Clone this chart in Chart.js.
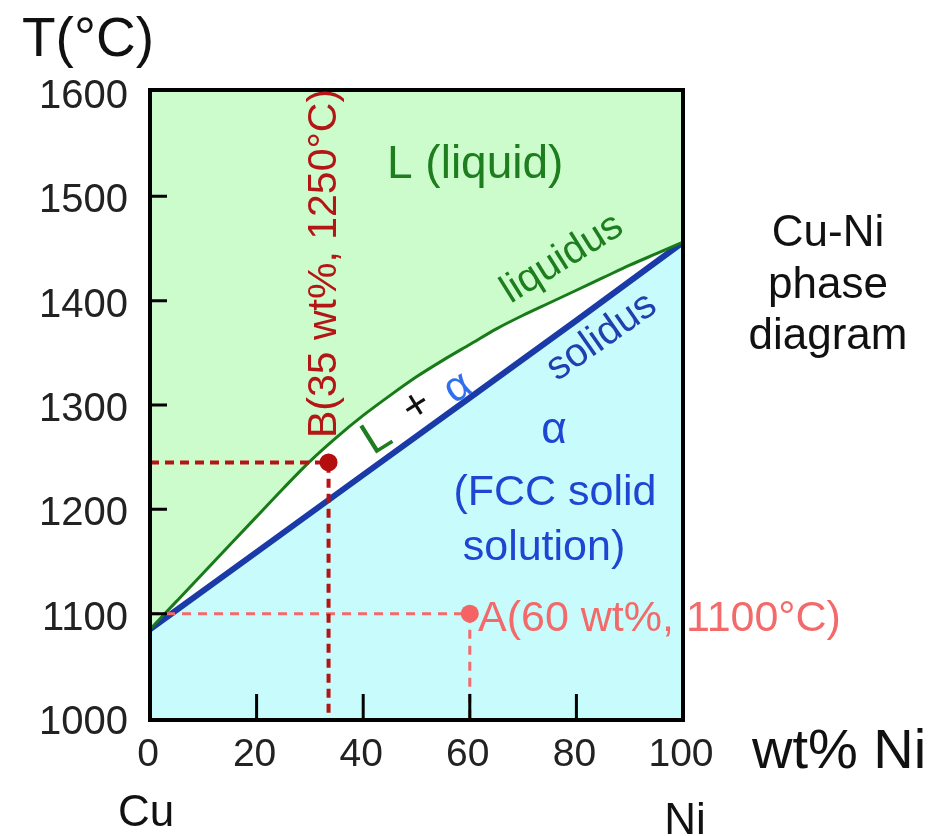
<!DOCTYPE html>
<html>
<head>
<meta charset="utf-8">
<script src="https://cdn.jsdelivr.net/npm/chart.js@4.4.1/dist/chart.umd.min.js"></script>
<style>
  html, body { margin: 0; padding: 0; background: #fff; }
  canvas { display: block; }
</style>
</head>
<body>
<canvas id="phaseChart" width="935" height="836"></canvas>
<script>
// Cu-Ni phase diagram values (wt% Ni vs temperature in C)
const liquidusNi = [0, 5, 10, 15, 20, 25, 30, 35, 40, 45, 50, 55, 60, 65, 70, 75, 80, 85, 90, 95, 100];
const liquidusT  = [1085, 1112, 1139, 1166, 1193, 1220, 1246, 1269, 1290, 1309, 1327, 1343, 1358, 1373, 1386, 1398, 1410, 1422, 1434, 1445, 1456];
const solidusNi = [0, 20, 40, 60, 80, 100];
const solidusT  = [1085, 1159, 1233, 1307, 1381, 1456];
const pointA = { ni: 60, t: 1100 };
const pointB = { ni: 33.5, t: 1245 };
const xTicks = [0, 20, 40, 60, 80, 100];
const yTicks = [1000, 1100, 1200, 1300, 1400, 1500, 1600];

const FONT = '"Liberation Sans", Arial, sans-serif';

function pts(xs, ys) {
    return xs.map((x, i) => ({ x: x, y: ys[i] }));
}

// frame, inward ticks and all the labels
const decorations = {
    id: 'decorations',
    afterDatasetsDraw(chart) {
        const ctx = chart.ctx;
        const a = chart.chartArea;
        const xs = chart.scales.x, ys = chart.scales.y;
        ctx.save();

        // inward tick marks
        ctx.strokeStyle = '#000';
        ctx.lineWidth = 3;
        ctx.beginPath();
        yTicks.slice(1, -1).forEach(v => {
            const y = ys.getPixelForValue(v);
            ctx.moveTo(a.left, y);
            ctx.lineTo(a.left + 17, y);
        });
        xTicks.slice(1, -1).forEach(v => {
            const x = xs.getPixelForValue(v);
            ctx.moveTo(x, a.bottom);
            ctx.lineTo(x, a.bottom - 24);
        });
        ctx.stroke();

        // plot frame
        ctx.lineWidth = 4;
        ctx.strokeRect(a.left, a.top - 2, a.right - a.left, a.bottom - a.top + 4);

        function text(str, x, y, size, color, align, angle, baseline) {
            ctx.save();
            ctx.translate(x, y);
            if (angle) ctx.rotate(angle * Math.PI / 180);
            ctx.font = size + 'px ' + FONT;
            ctx.fillStyle = color;
            ctx.textAlign = align || 'left';
            ctx.textBaseline = baseline || 'alphabetic';
            ctx.fillText(str, 0, 0);
            ctx.restore();
        }

        // axis titles and side labels
        text('T(°C)', 22, 56, 55, '#111');
        text('wt% Ni', 752, 768, 56, '#111');
        text('Cu', 146, 826, 44, '#111', 'center');
        text('Ni', 685, 834, 44, '#111', 'center');
        text('Cu-Ni', 828, 246, 44, '#111', 'center');
        text('phase', 828, 298, 44, '#111', 'center');
        text('diagram', 828, 349, 44, '#111', 'center');

        // phase regions
        text('L (liquid)', 387, 178, 46, '#1e7d1e');
        text('liquidus', 568, 268, 40, '#1e7d1e', 'center', -32);
        text('solidus', 608, 346, 40, '#2040b0', 'center', -35);
        text('L', 377, 438, 46, '#1e7d1e', 'center', -32, 'middle');
        text('+', 417, 407, 44, '#111', 'center', -32, 'middle');
        text('α', 458, 388, 42, '#2f6ff0', 'center', -32, 'middle');
        text('α', 554, 443, 44, '#1e46d2', 'center');
        text('(FCC solid', 555, 505, 43, '#1e46d2', 'center');
        text('solution)', 544, 560, 43, '#1e46d2', 'center');

        // point labels
        text('A(60 wt%, 1100°C)', 478, 631, 43, '#f26a6a');
        text('B(35 wt%, 1250°C)', 336, 438, 41, '#b41616', 'left', -90);

        ctx.restore();
    }
};

const ctx = document.getElementById('phaseChart').getContext('2d');
new Chart(ctx, {
    type: 'scatter',
    data: {
        datasets: [
            {
                label: 'B',
                data: [{ x: pointB.ni, y: pointB.t }],
                pointRadius: 9,
                backgroundColor: '#b40f0f',
                borderWidth: 0,
                order: 0
            },
            {
                label: 'A',
                data: [{ x: pointA.ni, y: pointA.t }],
                pointRadius: 9,
                backgroundColor: '#f46464',
                borderWidth: 0,
                order: 0
            },
            {
                label: 'B guide',
                data: [{ x: 0, y: pointB.t }, { x: pointB.ni, y: pointB.t }, { x: pointB.ni, y: 1000 }],
                showLine: true,
                pointRadius: 0,
                borderColor: '#b41414',
                borderWidth: 4,
                borderDash: [9, 6],
                fill: false,
                order: 1
            },
            {
                label: 'A guide',
                data: [{ x: 0, y: pointA.t }, { x: pointA.ni, y: pointA.t }, { x: pointA.ni, y: 1000 }],
                showLine: true,
                pointRadius: 0,
                borderColor: '#f46a6a',
                borderWidth: 3,
                borderDash: [9, 7],
                fill: false,
                order: 2
            },
            {
                label: 'liquidus',
                data: pts(liquidusNi, liquidusT),
                showLine: true,
                pointRadius: 0,
                borderColor: '#187a18',
                borderWidth: 3,
                cubicInterpolationMode: 'monotone',
                backgroundColor: '#ccfccc',
                fill: 'end',
                order: 3
            },
            {
                label: 'solidus',
                data: pts(solidusNi, solidusT),
                showLine: true,
                pointRadius: 0,
                borderColor: '#1a3aa8',
                borderWidth: 6,
                backgroundColor: '#c8fcfc',
                fill: 'start',
                order: 4
            }
        ]
    },
    options: {
        responsive: false,
        animation: false,
        layout: { padding: { top: 92, right: 252, left: 0, bottom: 0 } },
        plugins: {
            legend: { display: false },
            tooltip: { enabled: false }
        },
        scales: {
            x: {
                type: 'linear',
                min: 0,
                max: 100,
                afterFit(scale) { scale.height = 118; },
                afterBuildTicks(scale) { scale.ticks = xTicks.map(v => ({ value: v })); },
                grid: { display: false },
                border: { display: false },
                ticks: {
                    padding: 6,
                    labelOffset: -2,
                    color: '#222',
                    font: { family: FONT, size: 39 },
                    callback: v => String(v)
                }
            },
            y: {
                type: 'linear',
                min: 1000,
                max: 1600,
                afterFit(scale) { scale.width = 150; },
                afterBuildTicks(scale) { scale.ticks = yTicks.map(v => ({ value: v })); },
                grid: { display: false },
                border: { display: false },
                ticks: {
                    padding: 14,
                    labelOffset: 5,
                    color: '#222',
                    font: { family: FONT, size: 40 },
                    callback: v => String(v)
                }
            }
        }
    },
    plugins: [decorations]
});
</script>
</body>
</html>
